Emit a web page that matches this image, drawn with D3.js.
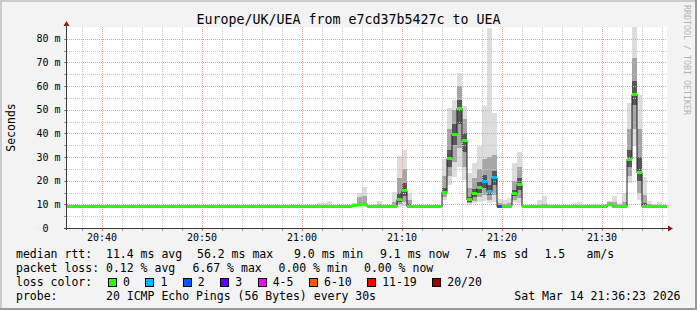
<!DOCTYPE html>
<html>
<head>
<meta charset="utf-8">
<script src="https://cdn.jsdelivr.net/npm/d3@7"></script>
<style>
html, body { margin: 0; padding: 0; background: #f3f3f3; }
svg { display: block; }
text { font-family: "DejaVu Sans Mono", monospace; white-space: pre; }
</style>
</head>
<body>
<svg id="chart"></svg>
<script>
// median rtt per 30s step (ms), 20:36:30 .. 21:36:30
const median = [
  9.0, 9.0, 9.0, 9.0, 9.0, 9.0, 9.0, 9.0, 9.0, 9.0, 9.0, 9.0, 9.0, 9.0, 9.0, 9.0, 9.0, 9.0, 9.0, 9.0,
  9.0, 9.0, 9.0, 9.0, 9.0, 9.0, 9.0, 9.0, 9.0, 9.0, 9.0, 9.0, 9.0, 9.0, 9.0, 9.0, 9.0, 9.0, 9.0, 9.0,
  9.0, 9.0, 9.0, 9.0, 9.0, 9.0, 9.0, 9.0, 9.0, 9.0, 9.0, 9.0, 9.0, 9.0, 9.0, 9.0, 9.0, 9.4, 9.8, 9.8,
  9.0, 9.0, 9.0, 9.0, 9.0, 9.2, 12.1, 15.7, 9.0, 9.0, 9.0, 9.0, 9.0, 9.0, 9.0, 15.1, 29.5, 39.7, 50.6, 36.9,
  11.9, 14.7, 17.1, 19.6, 15.4, 21.3, 9.0, 9.3, 9.3, 14.4, 18.4, 9.0, 9.0, 9.0, 9.0, 9.0, 9.0, 9.0, 9.0, 9.0,
  9.0, 9.0, 9.0, 9.0, 9.0, 9.0, 9.0, 9.0, 9.9, 9.2, 9.0, 9.0, 29.1, 56.5, 23.4, 9.0, 9.0, 9.0, 9.0, 9.0
];
// lost pings (of 20) per step
const loss = [
  0,0,0,0,0,0,0,0,0,0,0,0,0,0,0,0,0,0,0,0,
  0,0,0,0,0,0,0,0,0,0,0,0,0,0,0,0,0,0,0,0,
  0,0,0,0,0,0,0,0,0,0,0,0,0,0,0,0,0,0,0,0,
  0,0,0,0,0,0,0,0,0,0,0,0,0,0,0,0,0,0,0,0,
  0,0,0,1,1,1,2,0,0,0,0,0,0,0,0,0,0,0,0,0,
  0,0,0,0,0,0,0,0,0,0,0,0,0,0,0,0,0,0,0,0
];
// steps that show smoke, with ping spread (ms): outer, middle and inner bands
const smokeBins = [50, 51, 52, 57, 58, 59, 61, 62, 65, 66, 67, 68, 75, 76, 77, 78, 79, 80, 81, 82, 83, 84, 85, 86, 87, 88, 89, 90, 94, 95, 101, 102, 105, 107, 108, 109, 110, 111, 112, 113, 114, 115, 116, 117, 118, 119];
const smokeMin = [9.0, 9.0, 9.0, 8.9, 8.9, 8.9, 9.0, 9.0, 8.9, 9.0, 9.5, 8.9, 11.9, 18.2, 21.7, 26.0, 20.3, 9.7, 10.5, 11.0, 11.5, 10.5, 11.0, 8.9, 8.9, 8.9, 11.2, 10.5, 9.0, 9.0, 9.0, 9.0, 9.0, 9.0, 8.9, 8.9, 9.0, 9.0, 18.9, 34.5, 11.9, 8.9, 9.0, 9.0, 9.0, 9.0];
const smokeLo  = [9.0, 9.0, 9.0, 9.0, 9.2, 9.2, 9.0, 9.0, 9.0, 10.0, 11.0, 9.0, 13.0, 22.0, 28.0, 34.0, 26.0, 10.5, 11.5, 13.0, 14.0, 12.0, 14.0, 9.0, 9.0, 9.0, 12.0, 12.5, 9.0, 9.0, 9.0, 9.0, 9.0, 9.0, 9.2, 9.0, 9.0, 9.0, 22.0, 42.0, 15.0, 9.0, 9.0, 9.0, 9.0, 9.0];
const smokeInLo = [9.0, 9.0, 9.0, 9.1, 9.5, 9.5, 9.0, 9.0, 9.1, 11.0, 13.5, 9.0, 14.3, 26.0, 35.0, 44.0, 32.0, 11.2, 13.0, 15.0, 17.0, 13.8, 18.0, 9.0, 9.0, 9.0, 13.5, 16.0, 9.0, 9.0, 9.0, 9.0, 9.0, 9.0, 9.5, 9.0, 9.0, 9.0, 26.0, 52.0, 20.0, 9.0, 9.0, 9.0, 9.0, 9.0];
const smokeInHi = [9.1, 9.1, 9.1, 9.6, 10.5, 10.5, 9.2, 9.3, 9.6, 15.0, 19.0, 10.0, 17.0, 33.0, 44.0, 54.0, 40.0, 13.0, 16.5, 19.5, 22.5, 18.0, 24.0, 9.5, 9.5, 9.5, 16.0, 21.0, 9.2, 9.3, 9.1, 9.2, 9.1, 9.1, 10.2, 9.5, 9.2, 9.5, 33.0, 62.0, 30.0, 10.5, 9.3, 9.2, 9.3, 9.1];
const smokeHi  = [9.3, 9.3, 9.5, 10.0, 13.3, 13.5, 9.5, 10.0, 11.0, 21.0, 25.0, 12.0, 22.0, 42.0, 50.0, 60.0, 46.0, 17.0, 21.0, 25.0, 29.0, 30.0, 31.0, 10.5, 10.0, 10.5, 20.0, 26.0, 9.8, 10.2, 9.3, 9.6, 9.3, 9.3, 10.8, 11.0, 9.6, 11.0, 42.0, 72.0, 42.0, 14.0, 10.0, 9.5, 9.8, 9.3];
const smokeMax = [10.5, 10.5, 11.4, 10.7, 15.0, 17.2, 10.0, 11.4, 15.1, 30.5, 33.0, 15.0, 29.2, 50.7, 54.2, 65.5, 51.4, 23.2, 27.4, 34.5, 51.4, 84.6, 48.6, 12.2, 11.9, 12.6, 27.4, 32.3, 11.9, 13.7, 10.7, 11.2, 10.2, 10.2, 11.6, 13.6, 10.7, 14.7, 52.8, 85.0, 56.4, 21.7, 11.4, 10.0, 11.0, 9.5];

const yTicks = [0, 10, 20, 30, 40, 50, 60, 70, 80];
const lossLabels = ["0", "1", "2", "3", "4-5", "6-10", "11-19", "20/20"];
const lossColors = ["#26ff00", "#00b8ff", "#0059ff", "#5e00ff", "#ff00ff", "#ff5500", "#ff0000", "#a10000"];

const title = "Europe/UK/UEA from e7cd37b5427c to UEA";
// legend rows: each row is a list of gprint items with their start column in px
const rttItems = [["median rtt:  11.4 ms avg", 16], ["56.2 ms max", 197], ["9.0 ms min", 294], ["9.1 ms now", 380], ["7.4 ms sd", 465.5], ["1.5", 544.5], ["am/s", 586.5]];
const lossItems = [["packet loss: 0.12 % avg", 16], ["6.67 % max", 192.5], ["0.00 % min", 278.5], ["0.00 % now", 364]];
const probeText = "probe:       20 ICMP Echo Pings (56 Bytes) every 30s";
const stamp = "Sat Mar 14 21:36:23 2026";

const W = 697, H = 310;
const L = 67, R = 667, T = 27, B = 228;
const t0 = new Date(2026, 2, 14, 20, 36, 30);
const t1 = new Date(2026, 2, 14, 21, 36, 30);
const step = 30000;
const binStart = k => new Date(+t0 + k * step);

const svg = d3.select("#chart").attr("width", W).attr("height", H);

const x = d3.scaleTime().domain([t0, t1]).range([L, R]);
const y = d3.scaleLinear().domain([0, 85]).range([B, T]);

// background + frame shading
svg.append("rect").attr("width", W).attr("height", H).attr("fill", "#f3f3f3");
svg.append("rect").attr("x", 0).attr("y", 0).attr("width", W).attr("height", 2).attr("fill", "#cbcbcb");
svg.append("rect").attr("x", 0).attr("y", 0).attr("width", 2).attr("height", H).attr("fill", "#cbcbcb");
svg.append("rect").attr("x", 0).attr("y", H - 2).attr("width", W).attr("height", 2).attr("fill", "#999999");
svg.append("rect").attr("x", W - 2).attr("y", 0).attr("width", 2).attr("height", H).attr("fill", "#999999");

// canvas
svg.append("rect").attr("x", L).attr("y", T).attr("width", R - L).attr("height", B - T).attr("fill", "#ffffff");

// smoke
const bands = [
  { lo: smokeMin, hi: smokeMax, color: "#dddddd" },
  { lo: smokeLo, hi: smokeHi, color: "#a6a6a6" },
  { lo: smokeInLo, hi: smokeInHi, color: "#575757" }
];
const gSmoke = svg.append("g").attr("shape-rendering", "crispEdges");
bands.forEach(b => {
  gSmoke.selectAll(null)
    .data(smokeBins.map((k, i) => ({ k, lo: b.lo[i], hi: b.hi[i] })))
    .join("rect")
    .attr("x", d => x(binStart(d.k)))
    .attr("width", d => x(binStart(d.k + 1)) - x(binStart(d.k)))
    .attr("y", d => y(d.hi))
    .attr("height", d => Math.max(0, y(d.lo) - y(d.hi)))
    .attr("fill", b.color);
});

// grid
const gGrid = svg.append("g").attr("shape-rendering", "crispEdges").attr("stroke-dasharray", "1,1");
const minorX = d3.timeMinute.every(2).range(t0, t1).filter(t => t.getMinutes() % 10 !== 0);
const majorX = d3.timeMinute.every(10).range(t0, t1);
const minorY = d3.range(5, 85, 10);
gGrid.selectAll(".mx").data(minorX).join("line")
  .attr("x1", d => Math.round(x(d)) + 0.5).attr("x2", d => Math.round(x(d)) + 0.5)
  .attr("y1", T).attr("y2", B).attr("stroke", "#c8c8c8");
gGrid.selectAll(".my").data(minorY).join("line")
  .attr("x1", L).attr("x2", R)
  .attr("y1", d => Math.round(y(d)) + 0.5).attr("y2", d => Math.round(y(d)) + 0.5).attr("stroke", "#c8c8c8");
gGrid.selectAll(".Mx").data(majorX).join("line")
  .attr("x1", d => Math.round(x(d)) + 0.5).attr("x2", d => Math.round(x(d)) + 0.5)
  .attr("y1", T).attr("y2", B).attr("stroke", "#f09a9a");
gGrid.selectAll(".My").data(yTicks.slice(1)).join("line")
  .attr("x1", L).attr("x2", R)
  .attr("y1", d => Math.round(y(d)) + 0.5).attr("y2", d => Math.round(y(d)) + 0.5).attr("stroke", "#f09a9a");

// median line
const medPts = median.map((m, k) => [x(binStart(k)), y(m)]);
medPts.push([x(binStart(median.length)), y(median[median.length - 1])]);
svg.append("path")
  .attr("d", d3.line().curve(d3.curveStepAfter)(medPts))
  .attr("fill", "none").attr("stroke", "#202020").attr("stroke-width", 1);

// loss-coloured median markers
const lossBucket = n => n === 0 ? 0 : n === 1 ? 1 : n === 2 ? 2 : n === 3 ? 3 : n <= 5 ? 4 : n <= 10 ? 5 : n <= 19 ? 6 : 7;
svg.append("g").attr("shape-rendering", "crispEdges")
  .selectAll("rect").data(median.map((m, k) => ({ k, m, l: loss[k] })))
  .join("rect")
  .attr("x", d => x(binStart(d.k)))
  .attr("width", d => x(binStart(d.k + 1)) - x(binStart(d.k)))
  .attr("y", d => y(d.m) - 1.5)
  .attr("height", 3)
  .attr("fill", d => lossColors[lossBucket(d.l)]);

// axes
const gAxis = svg.append("g").attr("shape-rendering", "crispEdges");
gAxis.append("line").attr("x1", L - 0.5).attr("x2", L - 0.5).attr("y1", B + 2).attr("y2", T - 2).attr("stroke", "#3a3a3a");
gAxis.append("line").attr("x1", L - 3).attr("x2", R + 2).attr("y1", B + 0.5).attr("y2", B + 0.5).attr("stroke", "#3a3a3a");
gAxis.selectAll(".tx").data(minorX.concat(majorX)).join("line")
  .attr("x1", d => Math.round(x(d)) + 0.5).attr("x2", d => Math.round(x(d)) + 0.5)
  .attr("y1", B + 1).attr("y2", B + 3).attr("stroke", d => d.getMinutes() % 10 ? "#999999" : "#e06060");
gAxis.selectAll(".ty").data(d3.range(5, 85, 5)).join("line")
  .attr("x1", L - 3).attr("x2", L - 1)
  .attr("y1", d => Math.round(y(d)) + 0.5).attr("y2", d => Math.round(y(d)) + 0.5)
  .attr("stroke", d => d % 10 ? "#999999" : "#e06060");
svg.append("path").attr("d", `M${L - 0.5 - 3},${T - 1} L${L - 0.5 + 3},${T - 1} L${L - 0.5},${T - 6} Z`).attr("fill", "#8b1c1c");
svg.append("path").attr("d", `M${R + 1},${B + 0.5 - 3} L${R + 1},${B + 0.5 + 3} L${R + 6},${B + 0.5} Z`).attr("fill", "#8b1c1c");

// tick labels
svg.selectAll(".xl").data(majorX).join("text")
  .attr("x", d => x(d)).attr("y", 240.5)
  .attr("text-anchor", "middle").attr("font-size", "10px").attr("fill", "#000")
  .text(d3.timeFormat("%H:%M"));
svg.selectAll(".yl").data(yTicks).join("text")
  .attr("x", 60.5).attr("y", d => y(d) + 3.6)
  .attr("text-anchor", "end").attr("font-size", "10px").attr("fill", "#000")
  .text(d => d === 0 ? "0  " : `${d} m`);

// titles
svg.append("text").attr("x", W / 2).attr("y", 23.5).attr("text-anchor", "middle")
  .attr("font-size", "13.3px").attr("fill", "#000").text(title);
svg.append("text").attr("transform", "translate(15,127.5) rotate(-90)").attr("text-anchor", "middle")
  .attr("font-size", "11.5px").attr("fill", "#000").text("Seconds");
svg.append("text").attr("transform", "translate(683.5,5) rotate(90)")
  .attr("font-size", "8.3px").attr("fill", "#b4b4b4").text("RRDTOOL / TOBI OETIKER");

// legend
const charW = 11.5 * 0.602;
const legend = svg.append("g").attr("font-size", "11.5px").attr("fill", "#000");
[rttItems, lossItems].forEach((row, r) => {
  legend.selectAll(null).data(row).join("text")
    .attr("x", d => d[1]).attr("y", 258 + r * 14).text(d => d[0]);
});
legend.append("text").attr("x", 16).attr("y", 286).text("loss color:");
legend.append("text").attr("x", 16).attr("y", 300).text(probeText);
legend.append("text").attr("x", 680.5).attr("y", 300).attr("text-anchor", "end").text(stamp);

let lx = 108;
lossLabels.forEach((lab, i) => {
  legend.append("rect").attr("x", lx + 0.5).attr("y", 278.5).attr("width", 8).attr("height", 8)
    .attr("fill", lossColors[i]).attr("stroke", "#000").attr("shape-rendering", "crispEdges");
  legend.append("text").attr("x", lx + 15).attr("y", 286).text(lab);
  lx += 15 + lab.length * charW + 15.5;
});
</script>
</body>
</html>
